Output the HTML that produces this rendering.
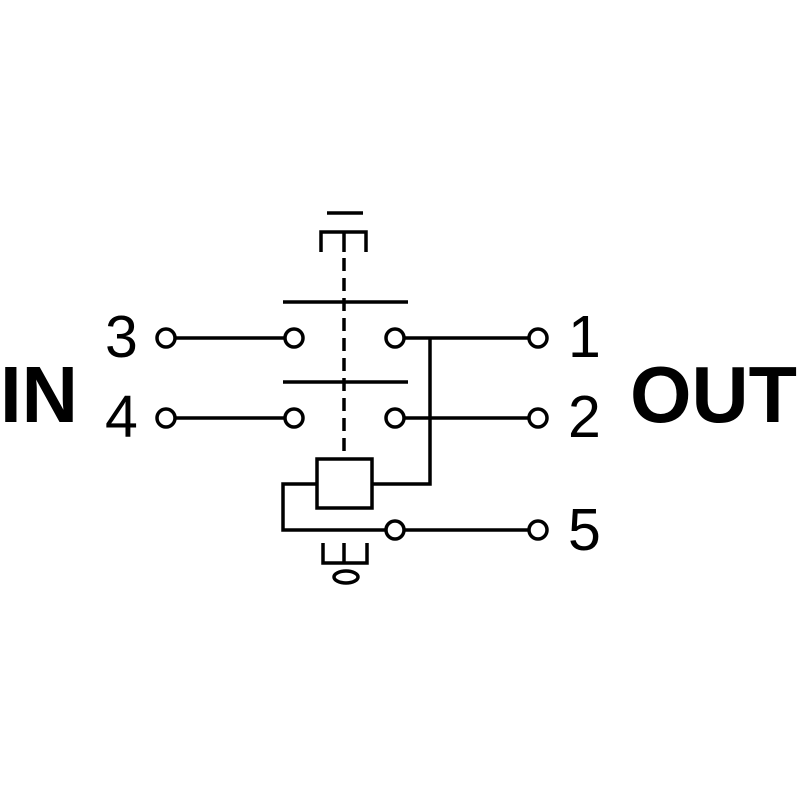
<!DOCTYPE html>
<html><head><style>body{margin:0;background:#fff}svg{display:block}</style></head><body>
<svg width="800" height="800" viewBox="0 0 800 800" xmlns="http://www.w3.org/2000/svg">
<g fill="none" stroke="#000" stroke-width="3.5">
<line x1="327" y1="213" x2="363" y2="213"/>
<polyline points="321,252 321,232 366,232 366,252"/>
<line x1="344" y1="232" x2="344" y2="252"/>
<line x1="344" y1="258" x2="344" y2="458" stroke-dasharray="13,7"/>
<line x1="283" y1="302" x2="408" y2="302"/>
<line x1="283" y1="382" x2="408" y2="382"/>
<line x1="175" y1="338" x2="285" y2="338"/>
<line x1="175" y1="418" x2="285" y2="418"/>
<line x1="404" y1="338" x2="529" y2="338"/>
<line x1="404" y1="418" x2="529" y2="418"/>
<line x1="404" y1="530" x2="529" y2="530"/>
<polyline points="430,338 430,484 372,484"/>
<rect x="317" y="459" width="55" height="49"/>
<polyline points="317,484 283,484 283,530 386,530"/>
<polyline points="323,543 323,563 367,563 367,543"/>
<line x1="344" y1="543" x2="344" y2="563"/>
<ellipse cx="346" cy="577" rx="12" ry="6"/>
<circle cx="166" cy="338" r="9"/><circle cx="166" cy="418" r="9"/>
<circle cx="294" cy="338" r="9"/><circle cx="294" cy="418" r="9"/>
<circle cx="395" cy="338" r="9"/><circle cx="395" cy="418" r="9"/>
<circle cx="395" cy="530" r="9"/>
<circle cx="538" cy="338" r="9"/><circle cx="538" cy="418" r="9"/><circle cx="538" cy="530" r="9"/>
</g>
<g font-family="'Liberation Sans',sans-serif" fill="#000">
<text x="0" y="422" font-size="80" font-weight="bold" textLength="78" lengthAdjust="spacingAndGlyphs">IN</text>
<text x="630" y="422" font-size="80" font-weight="bold" textLength="167" lengthAdjust="spacingAndGlyphs">OUT</text>
<text x="105" y="357" font-size="59">3</text>
<text x="105" y="437" font-size="59">4</text>
<text x="568" y="357" font-size="59">1</text>
<text x="568" y="437" font-size="59">2</text>
<text x="568" y="550" font-size="59">5</text>
</g>
</svg>
</body></html>
